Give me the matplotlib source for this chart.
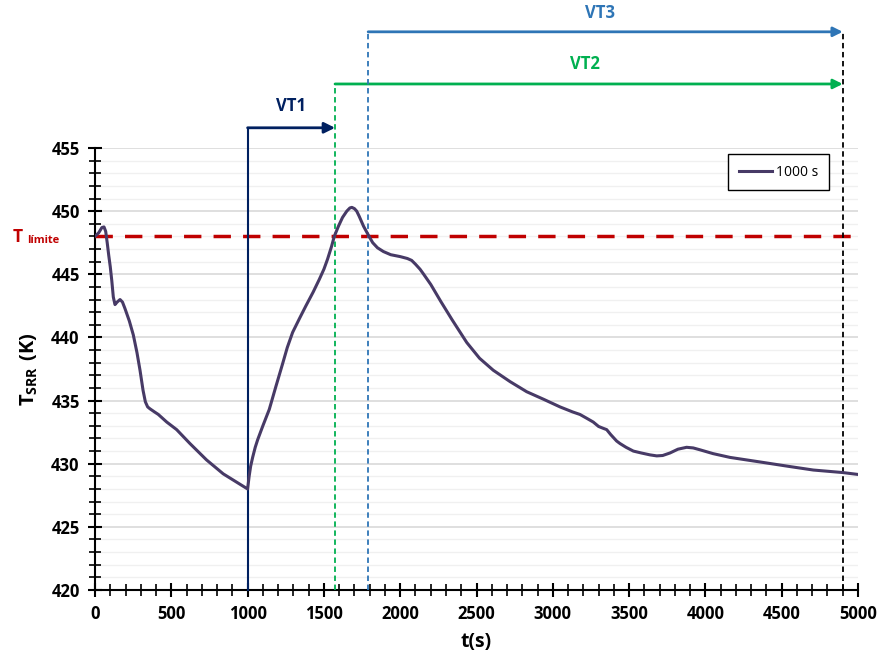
import matplotlib
matplotlib.use("Agg")
import matplotlib.pyplot as plt
from matplotlib.ticker import MultipleLocator

FONT = 'Open Sans'
plt.rcParams['font.family'] = [FONT, 'DejaVu Sans']
plt.rcParams['font.weight'] = 'bold'
plt.rcParams['axes.labelweight'] = 'bold'
plt.rcParams['mathtext.fontset'] = 'custom'
plt.rcParams['mathtext.rm'] = FONT + ':bold'
plt.rcParams['mathtext.bf'] = FONT + ':bold'

# ---- data ----
t = [0, 25, 45, 59, 70, 80, 90, 100, 110, 120, 131, 145, 164, 180, 196, 225, 251, 275, 295,
     315, 330, 345, 360, 390, 415, 470, 535, 622, 731, 840, 920, 1000,
     1010, 1020, 1033, 1050, 1066, 1100, 1142, 1185, 1229, 1260, 1295, 1340, 1382, 1430,
     1470, 1500, 1524, 1550, 1568, 1595, 1622, 1650, 1670, 1683, 1700, 1715, 1731, 1760,
     1796, 1820, 1851, 1890, 1938, 2000, 2047, 2075, 2100, 2130, 2151, 2200, 2266, 2340,
     2436, 2520, 2610, 2720, 2829, 2940, 3047, 3130, 3178, 3222, 3265, 3300, 3331, 3353,
     3380, 3418, 3440, 3480, 3528, 3580, 3637, 3681, 3720, 3768, 3820, 3877, 3920, 3965,
     4050, 4161, 4270, 4379, 4540, 4707, 4900, 5000]
T_srr = [448.0, 448.3, 448.7, 448.75, 448.4, 447.5, 446.5, 445.6, 444.5, 443.2, 442.6, 442.8,
         443.0, 442.8, 442.3, 441.3, 440.2, 438.8, 437.4, 435.8, 434.9, 434.5, 434.35, 434.1,
         433.9, 433.3, 432.7, 431.6, 430.3, 429.2, 428.6, 428.0,
         429.0, 429.8, 430.5, 431.3, 431.9, 433.0, 434.3, 436.1, 437.9, 439.2, 440.4, 441.5,
         442.5, 443.6, 444.6, 445.4, 446.2, 447.2, 448.0, 448.8, 449.5, 450.0, 450.25, 450.3,
         450.2, 450.0, 449.6, 448.8, 448.0, 447.5, 447.1, 446.8, 446.55, 446.4, 446.25, 446.1,
         445.8, 445.4, 445.05, 444.2, 442.85, 441.4, 439.6, 438.35, 437.4, 436.5, 435.7, 435.1,
         434.5, 434.1, 433.9, 433.6, 433.3, 432.95, 432.8, 432.7, 432.3, 431.8, 431.6, 431.3,
         431.0, 430.85, 430.7, 430.62, 430.65, 430.85, 431.15, 431.3, 431.25, 431.1, 430.8,
         430.5, 430.3, 430.1, 429.8, 429.5, 429.3, 429.15]
series_label = "1000 s"
T_limit = 448.0
vt1_start, vt1_end = 1000, 1573
vt2_start, vt2_end = 1573, 4900
vt3_start, vt3_end = 1790, 4900
y_vt1, y_vt2, y_vt3 = 456.6, 460.07, 464.2

fig = plt.figure(figsize=(8.82, 6.63), dpi=100)
ax = fig.add_axes([95/882, 1-590/663, 763/882, 442/663])

ax.set_xlim(0, 5000)
ax.set_ylim(420, 455)
ax.yaxis.set_major_locator(MultipleLocator(5))
ax.yaxis.set_minor_locator(MultipleLocator(1))
ax.xaxis.set_major_locator(MultipleLocator(500))
ax.xaxis.set_minor_locator(MultipleLocator(100))
ax.grid(axis='y', which='major', color='#d9d9d9', lw=1.2, zorder=0)
ax.grid(axis='y', which='minor', color='#f0f0f0', lw=1.0, zorder=0)
ax.set_axisbelow(True)

for s in ['top', 'right']:
    ax.spines[s].set_visible(False)
for s in ['left', 'bottom']:
    ax.spines[s].set_linewidth(1.5)
    ax.spines[s].set_color('black')
ax.tick_params(which='major', direction='inout', length=10, width=1.5, labelsize=12, pad=6)
ax.tick_params(which='minor', direction='inout', length=8, width=1.2)

# limit line
ax.axhline(T_limit, color='#c00000', lw=2.5, dashes=(5, 3.5), zorder=3)

# VT lines
navy, green, blue = '#002060', '#00b050', '#2e75b6'
ax.plot([vt1_start, vt1_start], [420, y_vt1], color=navy, lw=1.5, clip_on=False, zorder=4)
ax.annotate('', xy=(vt1_end, y_vt1), xytext=(vt1_start, y_vt1), annotation_clip=False,
            arrowprops=dict(arrowstyle='-|>', color=navy, lw=2, mutation_scale=16,
                            shrinkA=0, shrinkB=0))
ax.text((vt1_start + vt1_end) / 2, y_vt1 + 1.0, 'VT1', color=navy, fontsize=12,
        fontweight='bold', ha='center', va='bottom')

ax.plot([vt2_start, vt2_start], [420, y_vt2], color=green, lw=1.3, ls=(0, (3, 2)),
        clip_on=False, zorder=4)
ax.annotate('', xy=(vt2_end, y_vt2), xytext=(vt2_start, y_vt2), annotation_clip=False,
            arrowprops=dict(arrowstyle='-|>', color=green, lw=2, mutation_scale=14,
                            shrinkA=0, shrinkB=0))
ax.text(3211, y_vt2 + 0.9, 'VT2', color=green, fontsize=12, fontweight='bold',
        ha='center', va='bottom')

ax.plot([vt3_start, vt3_start], [420, y_vt3], color=blue, lw=1.3, ls=(0, (3, 2)),
        clip_on=False, zorder=4)
ax.annotate('', xy=(vt3_end, y_vt3), xytext=(vt3_start, y_vt3), annotation_clip=False,
            arrowprops=dict(arrowstyle='-|>', color=blue, lw=2, mutation_scale=14,
                            shrinkA=0, shrinkB=0))
ax.text(3309, y_vt3 + 0.8, 'VT3', color=blue, fontsize=12, fontweight='bold',
        ha='center', va='bottom')

ax.plot([vt2_end, vt2_end], [420, y_vt3], color='black', lw=1.3, ls=(0, (3, 2)),
        clip_on=False, zorder=4)

# curve
ax.plot(t, T_srr, color='#473a66', lw=2.2, label=series_label, zorder=5,
        solid_joinstyle='round')

leg = ax.legend(loc='upper right', bbox_to_anchor=(0.962, 0.986),
                prop={'family': FONT, 'size': 10, 'weight': 'normal'},
                frameon=True, fancybox=False, edgecolor='black', framealpha=1,
                handlelength=2.4, borderpad=0.75, borderaxespad=0, handletextpad=0.3)
leg.get_frame().set_linewidth(1.0)

ax.set_xlabel('t(s)', fontsize=14, fontweight='bold', labelpad=6)
ax.set_ylabel(r'$\mathbf{T_{SRR}\ (K)}$', fontsize=14.5, labelpad=8)

fig.text(13/882, 1-237/663, 'T', color='#c00000', fontsize=12.5, fontweight='bold',
         ha='left', va='center')
fig.text(27/882, 1-240/663, 'límite', color='#c00000', fontsize=8, fontweight='bold',
         ha='left', va='center')

fig.savefig('out.png', dpi=100)
